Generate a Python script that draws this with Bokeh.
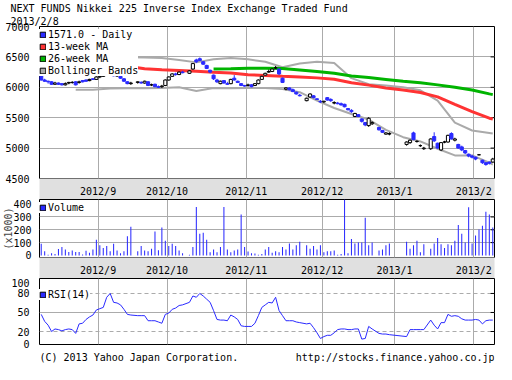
import numpy as np
import pandas as pd
from bokeh.plotting import figure
from bokeh.layouts import column
from bokeh.models import (Range1d, FixedTicker, Title, Legend, LegendItem, Grid,
                          ColumnDataSource)
from bokeh.core.properties import value
from bokeh.embed import file_html
from bokeh.resources import INLINE

# ---------------- data ----------------
title_text = "NEXT FUNDS Nikkei 225 Inverse Index Exchange Traded Fund"
date_text = "2013/2/8"
footer_left = "(C) 2013 Yahoo Japan Corporation."
footer_right = "http://stocks.finance.yahoo.co.jp"

start = "2012-08-09"
end = "2013-02-08"
holidays = ["2012-09-17", "2012-10-08", "2012-11-23", "2012-12-24", "2012-12-31",
            "2013-01-01", "2013-01-02", "2013-01-03", "2013-01-14"]
month_starts = ["2012-09-01", "2012-10-01", "2012-11-01", "2012-12-01", "2013-01-01", "2013-02-01"]
month_labels = ["2012/9", "2012/10", "2012/11", "2012/12", "2013/1", "2013/2"]

open_ = [6190, 6120,
         6100, 6090, 6050, 6070, 6060,
         6040, 6070, 6080, 6090, 6080,
         6110, 6120, 6110, 6140, 6130,
         6170, 6180, 6200, 6240, 6240,
         6190, 6180, 6140, 6090, 6060,
         6080, 6080, 6070, 6090,
         6040, 6050, 6010, 6010, 6030,
         6120, 6180, 6220, 6210, 6250,
         6230, 6300, 6450, 6470,
         6420, 6360, 6280, 6200, 6120,
         6060, 6110, 6060, 6060, 6150,
         6100, 6060, 6030, 6030, 6040,
         6030, 6060, 6130, 6200, 6250,
         6260, 6320, 6300, 6150, 5970,
         5990, 5960, 5920, 5870,
         5780, 5840, 5860, 5810, 5770,
         5760, 5830, 5800, 5740, 5740,
         5730, 5720, 5650, 5620, 5520,
         5550, 5480, 5420, 5370, 5400,
         5340, 5290, 5230, 5230,
         5060,
         5090, 5250, 5110, 5040, 4990,
         4990, 5190, 5080, 4970,
         5100, 5100, 5240, 5130, 5060,
         5020, 4960, 4900, 4870, 4850,
         4890, 4800, 4760, 4770, 4770]
high_ = [6220, 6140,
         6110, 6100, 6090, 6080, 6070,
         6080, 6090, 6100, 6100, 6110,
         6120, 6130, 6140, 6150, 6180,
         6190, 6210, 6250, 6270, 6250,
         6210, 6190, 6150, 6100, 6090,
         6100, 6100, 6110, 6100,
         6060, 6060, 6030, 6040, 6130,
         6180, 6230, 6240, 6260, 6270,
         6280, 6400, 6470, 6490,
         6430, 6370, 6290, 6210, 6140,
         6110, 6120, 6090, 6140, 6200,
         6110, 6070, 6040, 6060, 6050,
         6070, 6130, 6190, 6240, 6290,
         6310, 6350, 6310, 6160, 6000,
         6000, 5980, 5930, 5890,
         5830, 5900, 5870, 5820, 5790,
         5780, 5840, 5820, 5770, 5760,
         5750, 5730, 5660, 5640, 5580,
         5560, 5490, 5430, 5510, 5440,
         5350, 5300, 5260, 5260,
         5110,
         5140, 5270, 5130, 5060, 5020,
         5160, 5260, 5090, 5100,
         5120, 5220, 5260, 5170, 5070,
         5040, 4970, 4910, 4890, 4860,
         4900, 4810, 4770, 4780, 4840]
low_ = [6110, 6090,
        6060, 6040, 6040, 6040, 6030,
        6030, 6050, 6060, 6030, 6060,
        6080, 6090, 6100, 6120, 6120,
        6150, 6170, 6190, 6230, 6180,
        6170, 6140, 6090, 6050, 6040,
        6060, 6060, 6060, 6020,
        6020, 6000, 5990, 5990, 6020,
        6110, 6170, 6190, 6200, 6230,
        6220, 6290, 6400, 6430,
        6370, 6300, 6230, 6120, 6070,
        6050, 6060, 6040, 6050, 6110,
        6070, 6020, 6010, 6010, 6000,
        6020, 6050, 6120, 6190, 6240,
        6250, 6300, 6200, 6070, 5950,
        5950, 5920, 5880, 5850,
        5770, 5830, 5820, 5790, 5740,
        5740, 5780, 5760, 5720, 5720,
        5700, 5670, 5620, 5580, 5510,
        5510, 5420, 5360, 5350, 5380,
        5290, 5250, 5220, 5210,
        5040,
        5070, 5130, 5090, 5020, 4970,
        4970, 5100, 4990, 4950,
        5080, 5090, 5140, 5110, 4990,
        4950, 4900, 4850, 4830, 4800,
        4880, 4740, 4710, 4730, 4760]
close_ = [6120, 6100,
          6090, 6050, 6070, 6050, 6040,
          6060, 6080, 6080, 6040, 6090,
          6090, 6100, 6130, 6130, 6170,
          6180, 6200, 6240, 6260, 6190,
          6190, 6150, 6100, 6060, 6070,
          6090, 6070, 6100, 6030,
          6040, 6010, 6000, 6020, 6120,
          6170, 6220, 6210, 6250, 6240,
          6270, 6390, 6420, 6440,
          6380, 6310, 6250, 6140, 6090,
          6100, 6070, 6050, 6130, 6120,
          6080, 6030, 6020, 6040, 6010,
          6060, 6120, 6180, 6230, 6260,
          6300, 6320, 6220, 6080, 5990,
          5960, 5930, 5890, 5860,
          5820, 5890, 5830, 5800, 5760,
          5770, 5790, 5780, 5750, 5730,
          5710, 5680, 5630, 5600, 5570,
          5520, 5440, 5380, 5490, 5420,
          5300, 5260, 5250, 5240,
          5100,
          5130, 5140, 5110, 5040, 5000,
          5150, 5120, 5000, 5090,
          5100, 5210, 5150, 5150, 5000,
          4970, 4920, 4870, 4850, 4820,
          4890, 4760, 4730, 4750, 4820]
volume = [91, 32,
          5, 18, 11, 50, 66,
          46, 27, 39, 27, 27,
          7, 37, 21, 46, 123,
          80, 59, 73, 32, 91,
          39, 18, 32, 149, 224,
          32, 73, 39, 32,
          53, 187, 41, 217, 114,
          73, 91, 73, 39, 18,
          5, 66, 377, 169,
          176, 123, 25, 46, 25,
          66, 377, 46, 25, 39,
          46, 320, 66, 30, 18,
          16, 5, 11, 46, 66,
          21, 32, 25, 66, 46,
          94, 46, 80, 107,
          80, 53, 73, 46, 80,
          25, 32, 32, 39, 5,
          11, 450, 18, 128, 94,
          101, 101, 293, 80, 101,
          39, 46, 80, 94,
          107,
          53, 80, 114, 25, 87,
          53, 94, 135, 87,
          59, 87, 80, 114, 238,
          169, 101, 375, 94, 155,
          203, 231, 341, 320, 217]
rsi = [47, 36,
       30, 20, 24, 23, 21,
       23, 24, 23, 17, 32,
       33, 39, 43, 46, 54,
       56, 58, 74, 80, 66,
       65, 62, 55, 47, 46,
       45, 45, 45, 37,
       37, 37, 35, 33, 47,
       49, 55, 57, 61, 62,
       66, 76, 74, 80,
       76, 71, 66, 53, 39,
       38, 38, 37, 46, 43,
       39, 29, 28, 28, 28,
       33, 45, 58, 62, 66,
       65, 74, 53, 45, 37,
       37, 37, 35, 34,
       32, 33, 26, 18, 9,
       12, 14, 14, 18, 23,
       24, 24, 23, 23, 24,
       24, 8, 9, 28, 24,
       17, 16, 16, 15,
       12,
       23, 23, 23, 23, 23,
       38, 30, 24, 34,
       34, 47, 44, 45, 44,
       40, 38, 38, 38, 39,
       38, 32, 37, 38, 38]

# weekly anchor points of the moving averages / Bollinger bands
ma_dates = ["2012-08-09", "2012-08-16", "2012-08-23", "2012-08-30", "2012-09-06", "2012-09-13",
            "2012-09-20", "2012-09-27", "2012-10-04", "2012-10-11", "2012-10-18", "2012-10-25",
            "2012-11-01", "2012-11-08", "2012-11-15", "2012-11-22", "2012-11-29", "2012-12-06",
            "2012-12-13", "2012-12-20", "2012-12-27", "2013-01-03", "2013-01-10", "2013-01-17",
            "2013-01-24", "2013-01-31", "2013-02-07", "2013-02-08"]
nan = float("nan")
ma13 = [6420, 6410, 6400, 6385, 6365, 6345, 6305, 6290, 6278, 6265, 6248, 6236, 6208, 6196,
        6182, 6170, 6155, 6132, 6075, 6036, 5990, 5955, 5915, 5842, 5720, 5600, 5492, 5480]
ma26 = [nan, nan, nan, nan, nan, nan, nan, nan, nan, nan, 6300, 6305, 6315, 6315,
        6310, 6285, 6260, 6232, 6185, 6160, 6130, 6100, 6075, 6040, 6000, 5955, 5892, 5880]
bb_up = [nan, nan, 6480, 6490, 6500, 6495, 6490, 6480, 6450, 6410, 6460, 6480, 6460, 6420,
         6330, 6390, 6420, 6400, 6150, 6050, 6030, 6000, 5950, 5780, 5420, 5290, 5250, 5240]
bb_lo = [nan, nan, 5960, 5960, 5980, 5985, 5985, 5990, 6000, 5940, 5990, 5985, 5990, 5990,
         5970, 5920, 5780, 5660, 5560, 5470, 5300, 5180, 5110, 4990, 4880, 4880, 4760, 4730]

price_ticks = [4500, 5000, 5500, 6000, 6500, 7000]
volume_ticks = [0, 100, 200, 300, 400]
rsi_ticks = [0, 20, 50, 80, 100]

# ---------------- styling ----------------
FONT = "DejaVu Sans Mono"
FS = "10px"
BLUE = "#2a2aff"
RED = "#ff3333"
GREEN = "#00b400"
GRAY = "#aaaaaa"
GRID = "#ababab"
BAND = "#e0e0e0"
W = 496
LB = 29
RB = 2


def widx(dates):
    d = np.array(pd.to_datetime(dates).values, dtype="datetime64[D]")
    return np.busday_count(np.datetime64(start, "D"), d)


days = pd.bdate_range(start, end)
trade = days[~days.isin(pd.to_datetime(holidays))]
x = widx(trade).astype(float)
xm = widx(ma_dates).astype(float)
bounds = [float(v) - 0.5 for v in widx(month_starts)]
xr = Range1d(-0.5, float(widx([end])[0]) + 0.5)
FRAME_W = W - LB - RB
unit_px = FRAME_W / (xr.end - xr.start)


def base(height, yr, top, bottom, xloc):
    p = figure(width=W, height=height, x_range=xr, y_range=yr, output_backend="svg",
               toolbar_location=None, min_border_left=LB, min_border_right=RB,
               min_border_top=top, min_border_bottom=bottom, x_axis_location=xloc,
               title=None)
    p.outline_line_color = "black"
    p.outline_line_width = 1
    p.xgrid.visible = False
    p.ygrid.visible = False
    p.add_layout(Grid(dimension=0, ticker=FixedTicker(ticks=bounds), grid_line_color=GRID))
    return p


def style_y(p, ticks):
    ax = p.yaxis[0]
    ax.ticker = FixedTicker(ticks=ticks)
    ax.major_label_text_font = FONT
    ax.major_label_text_font_size = FS
    ax.major_label_text_color = "black"
    ax.axis_line_color = None
    ax.major_tick_line_color = None
    ax.minor_tick_line_color = None
    ax.major_label_standoff = 4
    # short inward tick marks at the right edge (4 px long)
    inner = ticks[1:-1]
    p.segment(x0=[xr.end - 4 / unit_px] * len(inner), x1=[xr.end] * len(inner),
              y0=inner, y1=inner, line_color="black", line_width=1)


def style_band(p):
    ax = p.xaxis[0]
    ax.ticker = FixedTicker(ticks=bounds)
    ax.major_label_overrides = {b: lab for b, lab in zip(bounds, month_labels)}
    ax.major_label_text_font = FONT
    ax.major_label_text_font_size = FS
    ax.major_label_text_color = "black"
    ax.axis_line_color = None
    ax.major_tick_line_color = None
    ax.minor_tick_line_color = None
    ax.major_label_standoff = 1
    ax.background_fill_color = BAND


ROW = 12
PAD = 3


def legend(p, entries, frame_h):
    items = []
    for lab, col in entries:
        # legend proxy: a single invisible (NaN) box that only provides the swatch
        r = p.quad(left=[nan], right=[nan], top=[nan], bottom=[nan], fill_color=col,
                   line_color="black")
        items.append(LegendItem(label=lab, renderers=[r]))
    n = len(entries)
    lg_h = 2 * PAD + n * ROW + (n - 1) * 1
    lg = Legend(items=items, location=(0, frame_h - 4 - lg_h), glyph_width=7, glyph_height=7,
                label_standoff=2, spacing=1, padding=PAD, margin=0, label_height=10,
                label_text_font=FONT, label_text_font_size=FS, label_text_color="black",
                border_line_color=None, background_fill_color="white", background_fill_alpha=1.0)
    p.add_layout(lg)


# ---------------- main price panel ----------------
MH = 163
pm = base(23 + MH + 13, Range1d(4500, 7000), 23, 13, "below")
pm.add_layout(Grid(dimension=1, ticker=FixedTicker(ticks=price_ticks[1:-1]), grid_line_color=GRID))
style_y(pm, price_ticks)
style_band(pm)
for txt in [date_text, title_text]:
    pm.add_layout(Title(text=txt, align="left", offset=-LB, standoff=0, text_font=FONT,
                        text_font_size=FS, text_font_style="normal", text_color="black"), "above")

pm.line(xm, bb_up, line_color=GRAY, line_width=2)
pm.line(xm, bb_lo, line_color=GRAY, line_width=2)
pm.line(xm, ma26, line_color=GREEN, line_width=3)
pm.line(xm, ma13, line_color=RED, line_width=3)

o = np.array(open_, float)
c = np.array(close_, float)
inc = c >= o
src = ColumnDataSource(dict(x=x, high=high_, low=low_, top=np.maximum(o, c), bottom=np.minimum(o, c),
                            fill=np.where(inc, "white", BLUE), line=np.where(inc, "black", BLUE)))
pm.segment(x0="x", y0="low", x1="x", y1="high", line_color="line", line_width=1, source=src)
pm.vbar(x="x", width=0.9, top="top", bottom="bottom", fill_color="fill", line_color="line",
        line_width=1, source=src)
legend(pm, [("1571.0 - Daily", BLUE), ("13-week MA", RED), ("26-week MA", GREEN),
            ("Bollinger Bands", GRAY)], MH)

# ---------------- volume panel ----------------
VH = 66
pv = base(VH + 13, Range1d(-16, 436), 0, 13, "below")
pv.add_layout(Grid(dimension=1, ticker=FixedTicker(ticks=volume_ticks[1:-1]), grid_line_color=GRID))
style_y(pv, volume_ticks)
pv.yaxis[0].major_label_standoff = 2
pv.yaxis[0].axis_label = "(x1000)"
pv.yaxis[0].axis_label_text_font = FONT
pv.yaxis[0].axis_label_text_font_size = FS
pv.yaxis[0].axis_label_text_font_style = "normal"
pv.yaxis[0].axis_label_standoff = -4
style_band(pv)
pv.vbar(x=x, width=0.3, top=volume, bottom=0, fill_color=BLUE, line_color=None)
legend(pv, [("Volume", BLUE)], VH)

# ---------------- RSI panel ----------------
RH = 66
pr = base(RH + 7, Range1d(-0.5, 103.6), 0, 7, None)
pr.add_layout(Grid(dimension=1, ticker=FixedTicker(ticks=[50]), grid_line_color=GRID))
pr.add_layout(Grid(dimension=1, ticker=FixedTicker(ticks=[20, 80]), grid_line_color=GRID,
                   grid_line_dash="4 3"))
style_y(pr, rsi_ticks)
pr.line(x, rsi, line_color=BLUE, line_width=1)
legend(pr, [("RSI(14)", BLUE)], RH)

# ---------------- footer ----------------
FH = 13
pf = figure(width=W, height=FH, x_range=Range1d(0, W), y_range=Range1d(0, FH),
            output_backend="svg", toolbar_location=None, min_border=0,
            x_axis_location=None, y_axis_location=None, title=None)
pf.outline_line_color = None
pf.xgrid.visible = False
pf.ygrid.visible = False
pf.text(x=[0], y=[FH], text=[footer_left], text_align="left", text_baseline="top",
        text_font=value(FONT), text_font_size=value(FS), text_color="black")
pf.text(x=[W], y=[FH], text=[footer_right], text_align="right", text_baseline="top",
        text_font=value(FONT), text_font_size=value(FS), text_color="black")

layout = column(pm, pv, pr, pf, spacing=0)
open("out.html", "w").write(file_html(layout, INLINE))
